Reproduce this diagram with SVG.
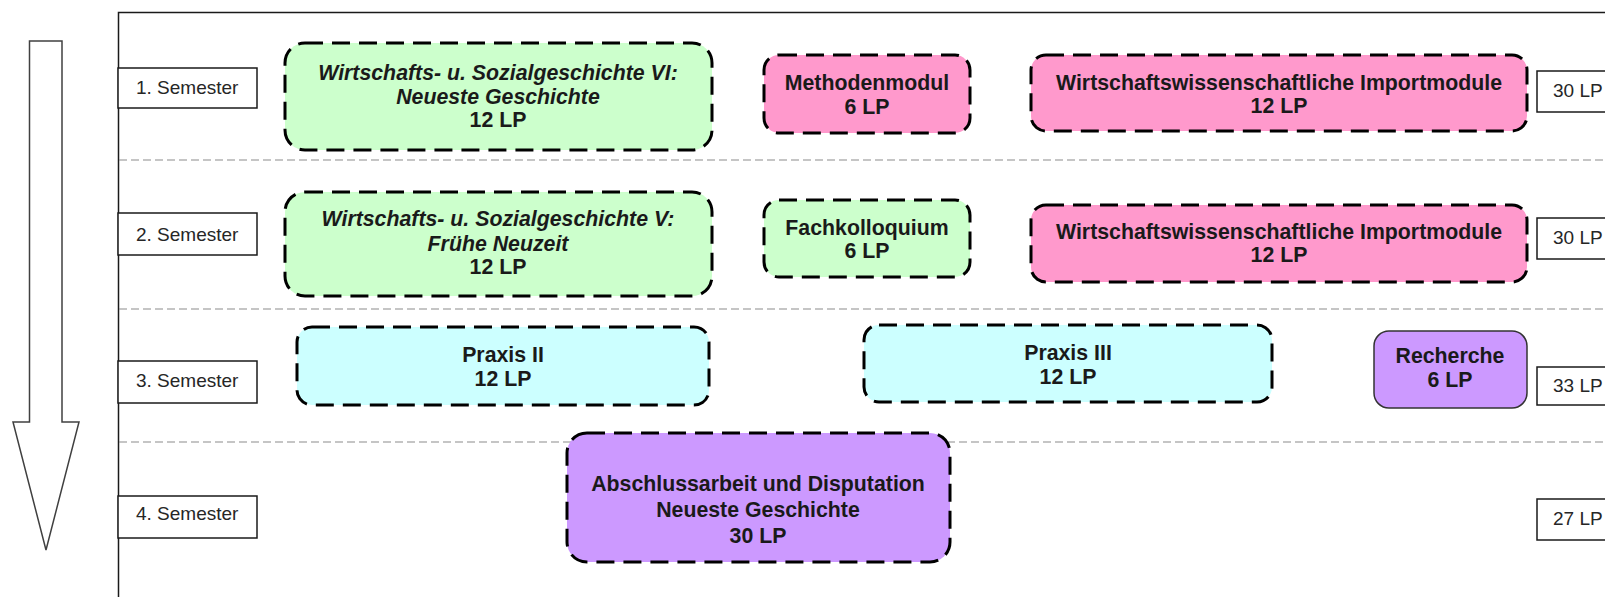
<svg xmlns="http://www.w3.org/2000/svg" width="1605" height="597" viewBox="0 0 1605 597">
<style>
.frame{fill:none;stroke:#1a1a1a;stroke-width:1.5}
.sep{stroke:#8c8c8c;stroke-width:1.2;stroke-dasharray:8 4;fill:none}
.lbl{fill:#fff;stroke:#1a1a1a;stroke-width:1.5}
.lt{font-family:"Liberation Sans",Arial,sans-serif;font-size:19px;fill:#262626}
.mod{stroke:#000;stroke-width:3;stroke-dasharray:18 9}
.solid{stroke:#333;stroke-width:1.5}
.t{font-family:"Liberation Sans",Arial,sans-serif;font-size:21.3px;font-weight:bold;fill:#1a1a1a;text-anchor:middle}
.i{font-style:italic}
.green{fill:#ccffcc}.pink{fill:#ff99cc}.cyan{fill:#ccffff}.violet{fill:#cc99ff}
</style>
<rect width="1605" height="597" fill="#fff"/>
<g id="arrow">
<polygon points="29.5,41 62,41 62,422 79,422 46,550 13,422 29.5,422" fill="#fff" stroke="#404040" stroke-width="1.5"/>
</g>
<g id="frame">
<polyline class="frame" points="118.5,597 118.5,12.5 1605,12.5"/>
</g>
<g id="separators">
<line class="sep" x1="119" y1="160" x2="1605" y2="160"/>
<line class="sep" x1="119" y1="309" x2="1605" y2="309"/>
<line class="sep" x1="119" y1="442" x2="1605" y2="442"/>
</g>
<g id="sem1"><rect class="lbl" x="118" y="68" width="139" height="40"/><text class="lt" x="136" y="94">1. Semester</text></g>
<g id="sem2"><rect class="lbl" x="118" y="213" width="139" height="42"/><text class="lt" x="136" y="241">2. Semester</text></g>
<g id="sem3"><rect class="lbl" x="118" y="361" width="139" height="42"/><text class="lt" x="136" y="387">3. Semester</text></g>
<g id="sem4"><rect class="lbl" x="118" y="496" width="139" height="42"/><text class="lt" x="136" y="520">4. Semester</text></g>
<g id="lp1"><rect class="lbl" x="1537" y="71" width="100" height="41"/><text class="lt" x="1553" y="97">30 LP</text></g>
<g id="lp2"><rect class="lbl" x="1537" y="218" width="100" height="41"/><text class="lt" x="1553" y="244">30 LP</text></g>
<g id="lp3"><rect class="lbl" x="1537" y="367" width="100" height="38"/><text class="lt" x="1553" y="392">33 LP</text></g>
<g id="lp4"><rect class="lbl" x="1537" y="499" width="100" height="41"/><text class="lt" x="1553" y="525">27 LP</text></g>
<g id="wsg6">
<rect class="mod green" x="285" y="43" width="427" height="107" rx="20"/>
<text class="t i" x="498" y="80">Wirtschafts- u. Sozialgeschichte VI:</text>
<text class="t i" x="498" y="104">Neueste Geschichte</text>
<text class="t" x="498" y="127">12 LP</text>
</g>
<g id="methoden">
<rect class="mod pink" x="764" y="55" width="206" height="78" rx="15"/>
<text class="t" x="867" y="90">Methodenmodul</text>
<text class="t" x="867" y="114">6 LP</text>
</g>
<g id="import1">
<rect class="mod pink" x="1031" y="55" width="496" height="76" rx="15"/>
<text class="t" x="1279" y="90">Wirtschaftswissenschaftliche Importmodule</text>
<text class="t" x="1279" y="113">12 LP</text>
</g>
<g id="wsg5">
<rect class="mod green" x="285" y="192" width="427" height="104" rx="20"/>
<text class="t i" x="498" y="226">Wirtschafts- u. Sozialgeschichte V:</text>
<text class="t i" x="498" y="251">Frühe Neuzeit</text>
<text class="t" x="498" y="274">12 LP</text>
</g>
<g id="fachkolloquium">
<rect class="mod green" x="764" y="200" width="206" height="77" rx="15"/>
<text class="t" x="867" y="235">Fachkolloquium</text>
<text class="t" x="867" y="258">6 LP</text>
</g>
<g id="import2">
<rect class="mod pink" x="1031" y="205" width="496" height="77" rx="15"/>
<text class="t" x="1279" y="239">Wirtschaftswissenschaftliche Importmodule</text>
<text class="t" x="1279" y="262">12 LP</text>
</g>
<g id="praxis2">
<rect class="mod cyan" x="297" y="327" width="412" height="78" rx="15"/>
<text class="t" x="503" y="362">Praxis II</text>
<text class="t" x="503" y="386">12 LP</text>
</g>
<g id="praxis3">
<rect class="mod cyan" x="864" y="325" width="408" height="77" rx="15"/>
<text class="t" x="1068" y="360">Praxis III</text>
<text class="t" x="1068" y="384">12 LP</text>
</g>
<g id="recherche">
<rect class="solid violet" x="1374" y="331" width="153" height="77" rx="15"/>
<text class="t" x="1450" y="363">Recherche</text>
<text class="t" x="1450" y="387">6 LP</text>
</g>
<g id="abschluss">
<rect class="mod violet" x="567" y="433" width="383" height="129" rx="20"/>
<text class="t" x="758" y="491">Abschlussarbeit und Disputation</text>
<text class="t" x="758" y="517">Neueste Geschichte</text>
<text class="t" x="758" y="543">30 LP</text>
</g>
<g id="connectors"></g>
</svg>
